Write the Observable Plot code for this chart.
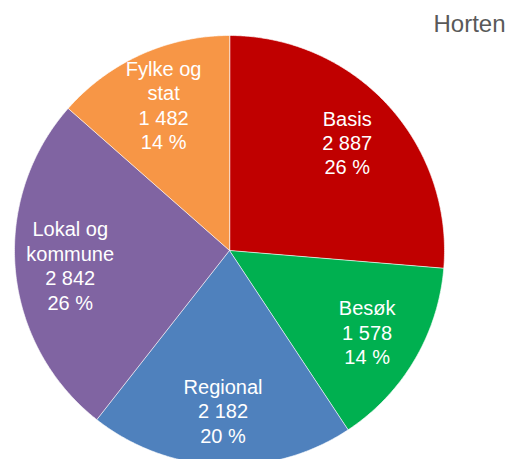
<!DOCTYPE html>
<html>
<head>
<meta charset="utf-8">
<script src="https://cdn.jsdelivr.net/npm/d3@7"></script>
<script src="https://cdn.jsdelivr.net/npm/@observablehq/plot@0.6"></script>
<style>
  html, body { margin: 0; padding: 0; background: #fff; }
  #chart svg { display: block; }
</style>
</head>
<body>
<div id="chart"></div>
<script>
const title = "Horten";
const categories = ["Basis", "Besøk", "Regional", "Lokal og kommune", "Fylke og stat"];
const values = [2887, 1578, 2182, 2842, 1482];
const colors = ["#C00000", "#00B050", "#4F81BD", "#8064A2", "#F79646"];

const W = 508, H = 459;
const cx = 229, cy = 250, R = 215;
const labelRadius = 0.744;

const total = d3.sum(values);
const nf = d3.formatLocale({decimal: ",", thousands: " ", grouping: [3], currency: ["", " kr"]}).format(",d");

const arcs = d3.pie().sort(null).value(d => d.value)(
  categories.map((c, i) => ({category: c, value: values[i]}))
);

// polygon vertices for each slice, generated from pie angles
const slicePts = [];
for (const a of arcs) {
  slicePts.push({category: a.data.category, x: 0, y: 0});
  const n = Math.max(2, Math.ceil((a.endAngle - a.startAngle) / (Math.PI / 360)));
  for (let k = 0; k <= n; k++) {
    const t = a.startAngle + (a.endAngle - a.startAngle) * k / n;
    slicePts.push({category: a.data.category, x: Math.sin(t), y: Math.cos(t)});
  }
}

const labels = arcs.map(a => {
  const m = (a.startAngle + a.endAngle) / 2;
  return {
    category: a.data.category,
    x: Math.sin(m) * labelRadius,
    y: Math.cos(m) * labelRadius,
    text: a.data.category.replace(" og ", " og\n") + "\n" + nf(a.data.value) + "\n" + Math.round(a.data.value / total * 100) + " %"
  };
});

const chart = Plot.plot({
  width: W,
  height: H,
  margin: 0,
  style: {fontFamily: "Arial, 'Liberation Sans', sans-serif", background: "#fff"},
  x: {domain: [-cx / R, (W - cx) / R], range: [0, W], axis: null},
  y: {domain: [-(H - cy) / R, cy / R], range: [H, 0], axis: null},
  color: {domain: categories, range: colors},
  marks: [
    Plot.line(slicePts, {
      x: "x", y: "y", z: "category", fill: "category",
      stroke: "#ffffff", strokeWidth: 0.8, strokeOpacity: 0.8,
      curve: "linear-closed"
    }),
    Plot.text(labels, {
      x: "x", y: "y", text: "text",
      fill: "white", fontSize: 20, lineHeight: 1.22,
      textAnchor: "middle", lineAnchor: "middle"
    }),
    Plot.text([title], {
      frameAnchor: "top-right", text: d => d,
      fill: "#595959", fontSize: 24, lineAnchor: "top",
      dx: -3, dy: 14
    })
  ]
});
document.getElementById("chart").appendChild(chart);
</script>
</body>
</html>
